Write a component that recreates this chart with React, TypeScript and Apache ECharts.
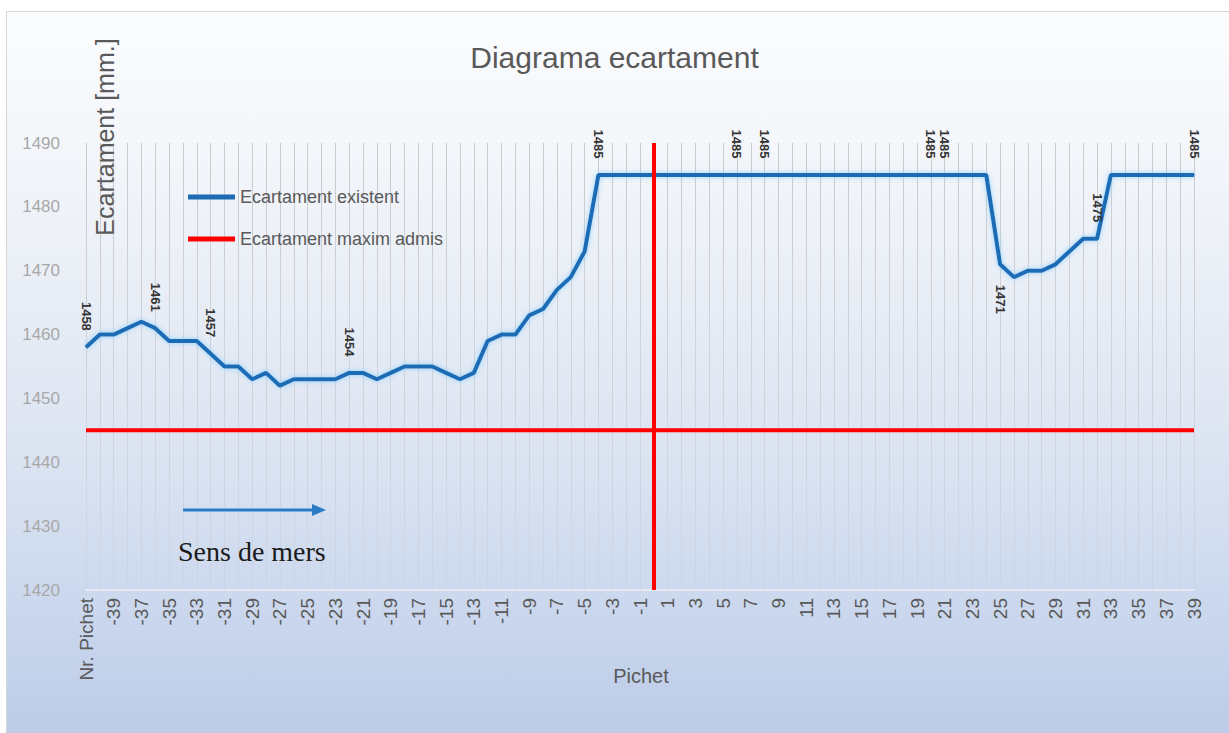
import React, { useEffect, useRef } from 'react';
import * as echarts from 'echarts';

const categories: string[] = [
  'Nr. Pichet',
  '-40', '-39', '-38', '-37', '-36', '-35', '-34', '-33', '-32', '-31',
  '-30', '-29', '-28', '-27', '-26', '-25', '-24', '-23', '-22', '-21',
  '-20', '-19', '-18', '-17', '-16', '-15', '-14', '-13', '-12', '-11',
  '-10', '-9', '-8', '-7', '-6', '-5', '-4', '-3', '-2', '-1',
  '0', '1', '2', '3', '4', '5', '6', '7', '8', '9',
  '10', '11', '12', '13', '14', '15', '16', '17', '18', '19',
  '20', '21', '22', '23', '24', '25', '26', '27', '28', '29',
  '30', '31', '32', '33', '34', '35', '36', '37', '38', '39',
];

const existing: number[] = [
  1458,
  1460, 1460, 1461, 1462, 1461, 1459, 1459, 1459, 1457, 1455,
  1455, 1453, 1454, 1452, 1453, 1453, 1453, 1453, 1454, 1454,
  1453, 1454, 1455, 1455, 1455, 1454, 1453, 1454, 1459, 1460,
  1460, 1463, 1464, 1467, 1469, 1473, 1485, 1485, 1485, 1485,
  1485, 1485, 1485, 1485, 1485, 1485, 1485, 1485, 1485, 1485,
  1485, 1485, 1485, 1485, 1485, 1485, 1485, 1485, 1485, 1485,
  1485, 1485, 1485, 1485, 1485, 1471, 1469, 1470, 1470, 1471,
  1473, 1475, 1475, 1485, 1485, 1485, 1485, 1485, 1485, 1485,
];

const maxAdmis: number[] = [
  1445,
  1445, 1445, 1445, 1445, 1445, 1445, 1445, 1445, 1445, 1445,
  1445, 1445, 1445, 1445, 1445, 1445, 1445, 1445, 1445, 1445,
  1445, 1445, 1445, 1445, 1445, 1445, 1445, 1445, 1445, 1445,
  1445, 1445, 1445, 1445, 1445, 1445, 1445, 1445, 1445, 1445,
  1445, 1445, 1445, 1445, 1445, 1445, 1445, 1445, 1445, 1445,
  1445, 1445, 1445, 1445, 1445, 1445, 1445, 1445, 1445, 1445,
  1445, 1445, 1445, 1445, 1445, 1445, 1445, 1445, 1445, 1445,
  1445, 1445, 1445, 1445, 1445, 1445, 1445, 1445, 1445, 1445,
];

const yTicks: number[] = [1420, 1430, 1440, 1450, 1460, 1470, 1480, 1490];
const labelsAbove: number[] = [0, 5, 9, 19, 37, 47, 49, 61, 62, 73, 80];
const labelsBelow: number[] = [66];
const markerCategory = '0';

const SANS = "'Liberation Sans', Arial, sans-serif";
const SERIF = "'Liberation Serif', 'Times New Roman', serif";

export default function App() {
  const ref = useRef<HTMLDivElement>(null);

  useEffect(() => {
    if (!ref.current) return;
    const chart = echarts.init(ref.current, undefined, { renderer: 'svg' });

    const blueData = existing.map((v, i) => {
      if (labelsAbove.includes(i)) {
        return {
          value: v,
          label: { show: true, position: 'top', rotate: -90, align: 'right', verticalAlign: 'middle', distance: 16 },
        };
      }
      if (labelsBelow.includes(i)) {
        return {
          value: v,
          label: { show: true, position: 'bottom', rotate: -90, align: 'left', verticalAlign: 'middle', distance: 20 },
        };
      }
      return { value: v };
    });

    const option: any = {
      animation: false,
      backgroundColor: new echarts.graphic.LinearGradient(0, 0, 0, 1, [
        { offset: 0, color: '#fcfdfe' },
        { offset: 0.25, color: '#f1f4f9' },
        { offset: 0.6, color: '#dde5f2' },
        { offset: 0.85, color: '#c9d6ed' },
        { offset: 1, color: '#bccbe7' },
      ]),
      title: {
        text: 'Diagrama ecartament',
        left: 'center',
        top: 37,
        textStyle: { fontFamily: SANS, fontSize: 30, fontWeight: 'normal', color: '#595959' },
      },
      legend: {
        orient: 'vertical',
        left: 183,
        top: 183,
        icon: 'rect',
        itemWidth: 47,
        itemHeight: 5,
        itemGap: 24,
        textStyle: { fontFamily: SANS, fontSize: 18, color: '#595959' },
        data: ['Ecartament existent', 'Ecartament maxim admis'],
      },
      grid: { left: 86, right: 35, top: 143, bottom: 143, containLabel: false },
      xAxis: {
        type: 'category',
        data: categories,
        boundaryGap: false,
        axisLine: { show: true, lineStyle: { color: '#e6ebf3', width: 2 } },
        axisTick: { show: false },
        axisLabel: { interval: 1, rotate: 90, fontFamily: SANS, fontSize: 19, color: '#595959', margin: 8 },
        splitLine: {
          show: true,
          interval: 0,
          lineStyle: {
            width: 1,
            color: new echarts.graphic.LinearGradient(0, 143, 0, 590, [
              { offset: 0, color: 'rgba(140,140,140,0.42)' },
              { offset: 0.45, color: 'rgba(140,140,140,0.25)' },
              { offset: 1, color: 'rgba(140,140,140,0.07)' },
            ], true),
          },
        },
      },
      yAxis: {
        type: 'value',
        min: yTicks[0],
        max: yTicks[yTicks.length - 1],
        interval: yTicks[1] - yTicks[0],
        axisLine: { show: false },
        axisTick: { show: false },
        splitLine: { show: false },
        axisLabel: {
          fontFamily: SANS,
          fontSize: 17,
          color: '#a8a8a8',
          margin: 26,
          formatter: (v: number) => String(v),
        },
      },
      series: [
        {
          name: 'Ecartament existent',
          type: 'line',
          data: blueData,
          symbol: 'circle',
          symbolSize: 1,
          showSymbol: true,
          showAllSymbol: true,
          z: 3,
          itemStyle: { color: '#1d6cb5' },
          lineStyle: { color: '#1d6cb5', width: 4, shadowColor: 'rgba(130,205,255,0.9)', shadowBlur: 5 },
          label: { show: false, fontFamily: SANS, fontSize: 13, fontWeight: 'bold', color: '#333333' },
        },
        {
          name: 'Ecartament maxim admis',
          type: 'line',
          data: maxAdmis,
          symbol: 'none',
          z: 4,
          itemStyle: { color: '#ff0000' },
          lineStyle: { color: '#ff0000', width: 4 },
          markLine: {
            silent: true,
            symbol: 'none',
            label: { show: false },
            lineStyle: { color: '#ff0000', width: 4, type: 'solid' },
            data: [{ xAxis: categories.indexOf(markerCategory) }],
          },
        },
      ],
      graphic: [
        { type: 'rect', shape: { x: 0, y: 0, width: 1229, height: 11 }, style: { fill: '#ffffff' }, silent: true },
        { type: 'rect', shape: { x: 0, y: 0, width: 6, height: 733 }, style: { fill: '#ffffff' }, silent: true },
        { type: 'line', shape: { x1: 6, y1: 11.5, x2: 1229, y2: 11.5 }, style: { stroke: '#d4d6da', lineWidth: 1 }, silent: true },
        { type: 'line', shape: { x1: 6.5, y1: 11, x2: 6.5, y2: 733 }, style: { stroke: '#d4d6da', lineWidth: 1 }, silent: true },
        {
          type: 'text',
          x: 105,
          y: 137,
          rotation: Math.PI / 2,
          style: {
            text: 'Ecartament [mm.]',
            fontFamily: SANS,
            fontSize: 25,
            fill: '#595959',
            align: 'center',
            verticalAlign: 'middle',
          },
        },
        {
          type: 'text',
          x: 641,
          y: 676,
          style: { text: 'Pichet', fontFamily: SANS, fontSize: 20, fill: '#595959', align: 'center', verticalAlign: 'middle' },
        },
        { type: 'line', shape: { x1: 183, y1: 510, x2: 314, y2: 510 }, style: { stroke: '#2a7cc7', lineWidth: 3 } },
        { type: 'polygon', shape: { points: [[312, 504], [326, 510], [312, 516]] }, style: { fill: '#2a7cc7' } },
        {
          type: 'text',
          x: 178,
          y: 551,
          style: { text: 'Sens de mers', fontFamily: SERIF, fontSize: 28, fill: '#1a1a1a', align: 'left', verticalAlign: 'middle' },
        },
      ],
    };

    chart.setOption(option);
    return () => chart.dispose();
  }, []);

  return <div ref={ref} style={{ position: 'absolute', left: 0, top: 0, width: 1229, height: 733 }} />;
}
